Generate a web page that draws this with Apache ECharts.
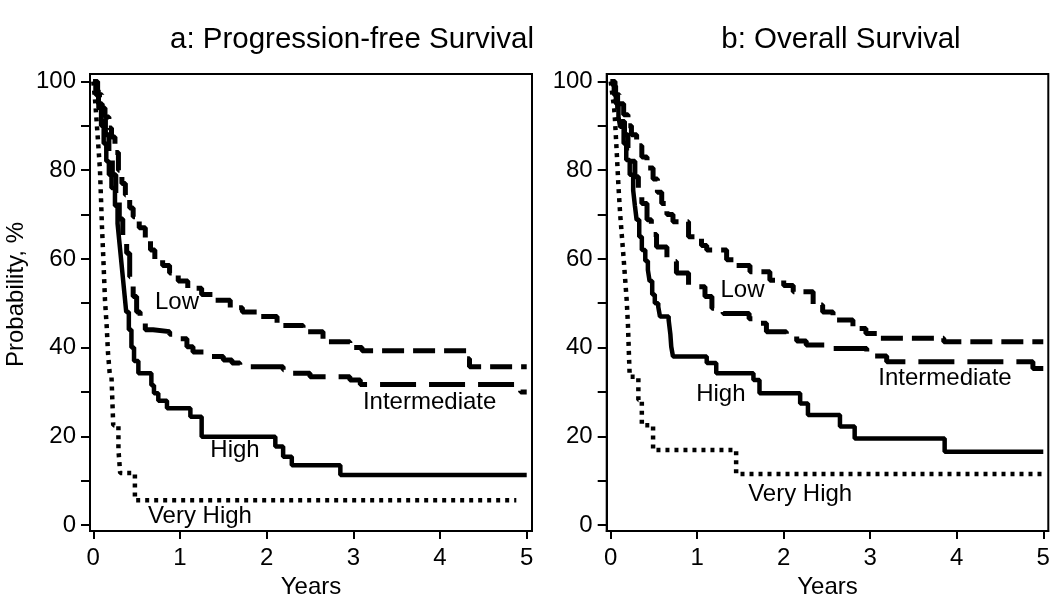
<!DOCTYPE html>
<html>
<head>
<meta charset="utf-8">
<script src="https://cdn.jsdelivr.net/npm/echarts@6/dist/echarts.min.js"></script>
<style>
html, body { margin: 0; background: #fff; }
#chart { width: 1050px; height: 594px; }
</style>
</head>
<body>
<div id="chart"></div>
<script>
// axis ticks
const xTicks = [0, 1, 2, 3, 4, 5];
const yLabels = [0, 20, 40, 60, 80, 100];
const yTicks = [0, 10, 20, 30, 40, 50, 60, 70, 80, 90, 100];

const groupNames = ['Low', 'Intermediate', 'High', 'Very High'];

// a: progression-free survival, [years, %]
const pfsLow = [[0,100],[0.05,97],[0.1,94],[0.135,92],[0.18,89.5],[0.21,87.5],[0.25,84],[0.29,80],[0.33,77],[0.37,74.4],[0.42,71.5],[0.46,69.5],[0.53,67],[0.6,64.3],[0.66,62],[0.71,59.8],[0.8,58.5],[0.88,56.8],[0.98,55],[1.09,53.4],[1.25,52],[1.38,50.7],[1.58,49],[1.72,48],[1.89,47],[2.12,45],[2.42,43.6],[2.65,41.3],[2.96,40],[3.1,39.3],[4.31,37.5],[4.34,35.7],[5.0,35.7]];
const pfsInt = [[0,100],[0.03,97],[0.06,95],[0.1,92],[0.14,88],[0.18,84],[0.22,79],[0.26,74],[0.3,69],[0.34,65],[0.385,61.3],[0.42,56],[0.46,51.5],[0.5,48],[0.54,45.8],[0.6,44],[0.69,43.6],[0.88,43],[0.95,42],[1.08,40.2],[1.15,39],[1.31,38],[1.5,37.2],[1.6,36.5],[1.69,35.7],[2.19,35],[2.29,34.2],[2.5,33.4],[2.96,32.7],[3.08,31.7],[4.93,30],[5.0,30]];
const pfsHigh = [[0,100],[0.03,98],[0.06,94],[0.09,90],[0.12,86],[0.15,82],[0.18,79],[0.21,76],[0.25,72],[0.28,68],[0.3,64],[0.32,60],[0.34,56],[0.36,52],[0.38,48],[0.41,44],[0.44,40],[0.47,37],[0.52,34.2],[0.67,31.5],[0.7,29.7],[0.75,28],[0.85,26.3],[1.12,24.4],[1.25,19.9],[2.1,17.7],[2.19,15.4],[2.29,13.5],[2.85,11.3],[5.0,11.3]];
const pfsVeryHigh = [[0,100],[0.02,96],[0.04,90.6],[0.06,85],[0.077,80],[0.09,73],[0.1,67.3],[0.115,60.5],[0.135,50.7],[0.155,44.7],[0.17,38.7],[0.19,34],[0.21,33.4],[0.23,22.5],[0.29,17],[0.31,11.7],[0.48,5.6],[4.88,5.6]];

// b: overall survival, [years, %]
const osLow = [[0,100],[0.05,97],[0.1,95],[0.15,92.5],[0.2,90],[0.24,88],[0.3,85.5],[0.36,83],[0.42,80.5],[0.49,78],[0.54,75],[0.59,72.5],[0.65,70],[0.72,68.4],[0.9,65],[1.05,63],[1.11,62],[1.34,59.8],[1.45,58.5],[1.61,57.1],[1.84,55.2],[2.0,54],[2.11,52.6],[2.34,49.6],[2.45,48],[2.57,46.2],[2.8,44.3],[2.95,43.2],[3.11,42.1],[3.85,41.3],[5.0,41.3]];
const osInt = [[0,100],[0.04,97],[0.08,94],[0.12,91],[0.16,88],[0.2,85],[0.24,82],[0.28,78.5],[0.32,75.5],[0.36,72.5],[0.42,68.8],[0.47,65.5],[0.53,62.7],[0.65,59.4],[0.76,56.8],[0.9,53.7],[1.09,51.5],[1.17,48.9],[1.3,47.7],[1.6,46.5],[1.65,45.5],[1.8,43.6],[2.03,42.8],[2.15,41.5],[2.26,40.6],[2.53,39.8],[2.96,39.1],[3.05,38.1],[3.19,36.8],[4.88,35.3],[5.0,35.3]];
const osHigh = [[0,100],[0.03,99],[0.06,95],[0.09,92],[0.11,89.8],[0.15,86],[0.18,82.3],[0.22,79],[0.26,75.5],[0.28,72],[0.3,68.8],[0.33,65],[0.36,62],[0.4,59.5],[0.43,57.5],[0.45,55],[0.48,52],[0.51,50],[0.55,49.2],[0.57,47],[0.67,46.2],[0.69,43],[0.7,40.2],[0.72,38],[1.11,36.5],[1.22,34.2],[1.65,32.7],[1.72,29.7],[2.19,27.4],[2.28,24.8],[2.65,22.2],[2.82,19.5],[3.86,16.5],[5.0,16.5]];
const osVeryHigh = [[0,100],[0.02,97],[0.04,94],[0.05,91.3],[0.07,84],[0.09,76.3],[0.11,70],[0.13,65],[0.15,60],[0.165,56],[0.185,50.7],[0.2,45],[0.21,39],[0.22,33.4],[0.32,28.2],[0.36,22.5],[0.49,16.9],[1.45,11.5],[5.0,11.5]];

// where the curve names sit, in data units
const pfsLabelX = [0.966, 3.88, 1.635, 1.23];
const pfsLabelY = [50.3, 27.7, 16.8, 2.0];
const osLabelX = [1.523, 3.864, 1.273, 2.19];
const osLabelY = [53, 33, 29.5, 7.0];

const FONT = '"Liberation Sans", Arial, sans-serif';
const lineStyles = [
	{ type: [22, 9], width: 5 },
	{ type: [36, 13], width: 5 },
	{ type: 'solid', width: 4.5 },
	{ type: [4, 5], width: 4.5 }
];

function makeAxes(gridIndex, xMin, xMax, yName) {
	const tickStyle = { color: '#000', width: 2 };
	const x = {
		type: 'value', gridIndex: gridIndex, min: xMin, max: xMax,
		name: 'Years', nameLocation: 'middle', nameGap: 42,
		nameTextStyle: { fontSize: 24, color: '#000', fontFamily: FONT },
		axisLine: { show: true, onZero: false, lineStyle: tickStyle },
		axisTick: { show: true, customValues: xTicks, length: 8, lineStyle: tickStyle },
		axisLabel: { customValues: xTicks, fontSize: 24, color: '#000', fontFamily: FONT, margin: 15 },
		splitLine: { show: false }
	};
	const y = {
		type: 'value', gridIndex: gridIndex, min: -1.353, max: 101.69,
		name: yName, nameLocation: 'middle', nameGap: 62,
		nameTextStyle: { fontSize: 24, color: '#000', fontFamily: FONT, padding: [0, 0, 0, 16] },
		axisLine: { show: true, onZero: false, lineStyle: tickStyle },
		axisTick: { show: true, customValues: yTicks, length: 9, lineStyle: tickStyle },
		axisLabel: { customValues: yLabels, fontSize: 24, color: '#000', fontFamily: FONT, margin: 14 },
		splitLine: { show: false }
	};
	return [x, y];
}

function makeSeries(idx, curves, labelX, labelY) {
	const out = curves.map((data, i) => ({
		type: 'line', xAxisIndex: idx, yAxisIndex: idx,
		step: 'end', symbol: 'none', data: data,
		lineStyle: Object.assign({ color: '#000', cap: 'butt' }, lineStyles[i]),
		silent: true
	}));
	out.push({
		type: 'scatter', xAxisIndex: idx, yAxisIndex: idx,
		symbolSize: 0, silent: true,
		itemStyle: { opacity: 1, color: '#000' },
		data: groupNames.map((n, i) => ({ name: n, value: [labelX[i], labelY[i]] })),
		label: {
			show: true, position: 'inside', formatter: p => p.name,
			fontSize: 24, color: '#000', fontFamily: FONT
		}
	});
	return out;
}

const axesA = makeAxes(0, -0.038, 5.061, 'Probability, %');
const axesB = makeAxes(1, -0.046, 5.058, '');

const gridBase = { top: 74, height: 457, show: true, borderColor: '#000', borderWidth: 2,
	backgroundColor: '#fff', containLabel: false, outerBoundsMode: 'none' };

const chart = echarts.init(document.getElementById('chart'));
chart.setOption({
	animation: false,
	backgroundColor: '#fff',
	title: [
		{ text: 'a: Progression-free Survival', left: 347, top: 20, textAlign: 'center',
			textStyle: { fontSize: 29.5, fontWeight: 'normal', color: '#000', fontFamily: FONT } },
		{ text: 'b: Overall Survival', left: 836, top: 20, textAlign: 'center',
			textStyle: { fontSize: 29.5, fontWeight: 'normal', color: '#000', fontFamily: FONT } }
	],
	grid: [
		Object.assign({ left: 90, width: 442 }, gridBase),
		Object.assign({ left: 606.7, width: 441.6 }, gridBase)
	],
	xAxis: [axesA[0], axesB[0]],
	yAxis: [axesA[1], axesB[1]],
	series: makeSeries(0, [pfsLow, pfsInt, pfsHigh, pfsVeryHigh], pfsLabelX, pfsLabelY)
		.concat(makeSeries(1, [osLow, osInt, osHigh, osVeryHigh], osLabelX, osLabelY))
});
</script>
</body>
</html>
